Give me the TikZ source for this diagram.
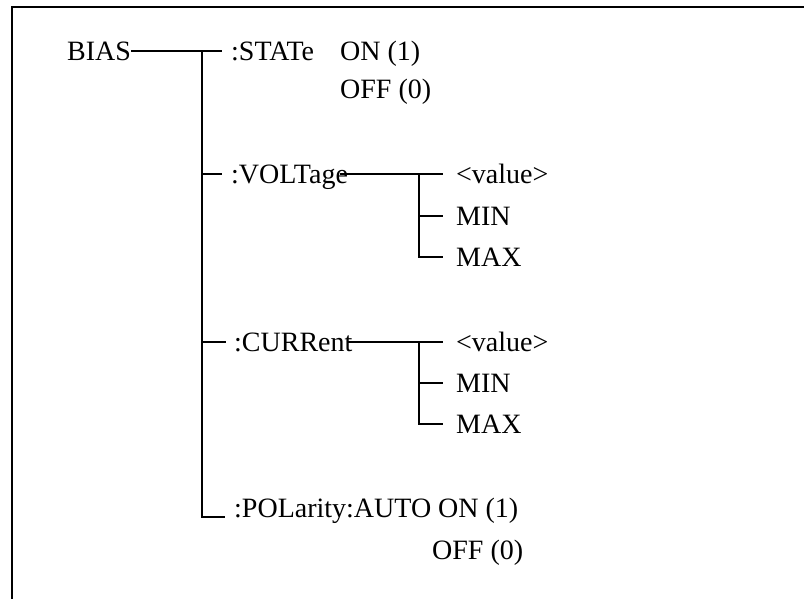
\documentclass[tikz,border=0pt]{standalone}
\usepackage{fontspec}
\setmainfont{Liberation Serif}

\begin{document}
\begin{tikzpicture}[x=1pt,y=-1pt,
  lbl/.style={anchor=base west,inner sep=0pt,font=\fontsize{28}{32}\selectfont},
  wire/.style={line width=1.8pt}]
  \useasboundingbox (0,0) rectangle (804,598);
  % frame, only left and top edge are visible
  \draw[line width=2.4pt] (12,600) -- (12,7) -- (806,7);

  \node[lbl] (bias) at (67,60) {BIAS};
  \node[lbl] (state) at (231,60) {:STATe};
  \node[lbl] (stOn) at (340,60) {ON (1)};
  \node[lbl] (stOff) at (340,98) {OFF (0)};

  \node[lbl] (volt) at (231,183) {:VOLTage};
  \node[lbl] (vVal) at (456,183) {<value>};
  \node[lbl] (vMin) at (456,225) {MIN};
  \node[lbl] (vMax) at (456,266) {MAX};

  \node[lbl] (curr) at (234,351) {:CURRent};
  \node[lbl] (cVal) at (456,351) {<value>};
  \node[lbl] (cMin) at (456,392) {MIN};
  \node[lbl] (cMax) at (456,433) {MAX};

  \node[lbl] (pol) at (234,517) {:POLarity:AUTO ON (1)};
  \node[lbl] (polOff) at (432,559) {OFF (0)};

  % line heights at the middle of the capitals
  \coordinate (biasM) at ([yshift=9pt]bias.base east);
  \coordinate (stateM) at ([yshift=9pt]state.base west);
  \coordinate (voltM) at ([yshift=9pt]volt.base west);
  \coordinate (voltE) at ([yshift=9pt]volt.base east);
  \coordinate (currM) at ([yshift=9pt]curr.base west);
  \coordinate (currE) at ([yshift=9pt]curr.base east);
  \coordinate (trunk) at (202,51);

  % main trunk
  \draw[wire] (biasM) -- ([xshift=-9pt]stateM);
  \draw[wire] (trunk) |- ([xshift=-9pt]pol.base west);
  \draw[wire] (voltM -| trunk) -- ([xshift=-9pt]voltM);
  \draw[wire] (currM -| trunk) -- ([xshift=-8pt]currM);

  % VOLTage branch
  \draw[wire] ([xshift=-8pt]voltE) -- ([xshift=-13pt,yshift=9pt]vVal.base west);
  \draw[wire] ([xshift=-37pt,yshift=9pt]vVal.base west) |- ([xshift=-13pt,yshift=9pt]vMax.base west);
  \draw[wire] ([xshift=-37pt,yshift=9pt]vMin.base west) -- ([xshift=-13pt,yshift=9pt]vMin.base west);

  % CURRent branch
  \draw[wire] ([xshift=-6pt]currE) -- ([xshift=-13pt,yshift=9pt]cVal.base west);
  \draw[wire] ([xshift=-37pt,yshift=9pt]cVal.base west) |- ([xshift=-13pt,yshift=9pt]cMax.base west);
  \draw[wire] ([xshift=-37pt,yshift=9pt]cMin.base west) -- ([xshift=-13pt,yshift=9pt]cMin.base west);
\end{tikzpicture}
\end{document}
